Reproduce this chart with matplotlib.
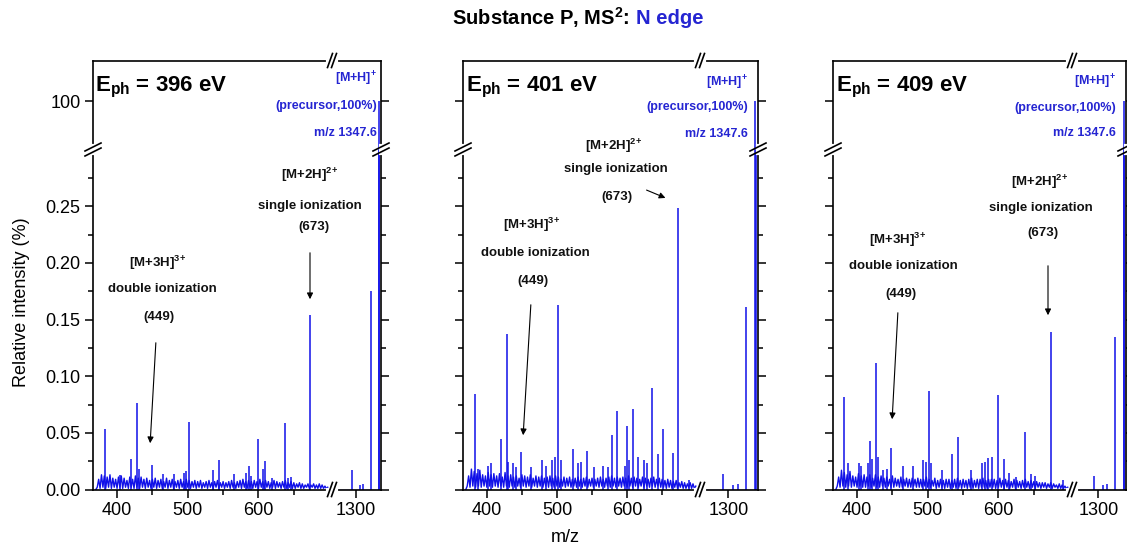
import numpy as np
import matplotlib.pyplot as plt
from matplotlib.lines import Line2D
from matplotlib.patches import FancyArrowPatch

plt.rcParams['font.family'] = ['Liberation Sans', 'DejaVu Sans']
plt.rcParams['mathtext.fontset'] = 'custom'
plt.rcParams['mathtext.rm'] = 'Liberation Sans:bold'
plt.rcParams['mathtext.bf'] = 'Liberation Sans:bold'
plt.rcParams['mathtext.default'] = 'rm'

# ---- data ----
energies = [396, 401, 409]

# discrete peaks (m/z, relative intensity in %)
peak_mz_396 = [383.5, 404, 420, 428, 431, 449.5, 465, 480, 494, 497, 501.4, 535, 544,
               565, 583, 586, 590, 599, 607, 609, 619, 637, 642, 646, 673.5,
               1291, 1308, 1315, 1330.5, 1347.6, 1348.6]
peak_int_396 = [0.053, 0.013, 0.027, 0.076, 0.018, 0.022, 0.014, 0.014, 0.015, 0.016, 0.060, 0.017, 0.026,
                0.014, 0.015, 0.021, 0.012, 0.045, 0.018, 0.025, 0.010, 0.059, 0.010, 0.011, 0.154,
                0.017, 0.004, 0.005, 0.175, 100, 78]

peak_mz_401 = [382.6, 388, 402, 405.6, 419.8, 428.2, 430.6, 437.6, 442, 449.4, 463.5, 479,
               484.7, 493, 496.5, 501.2, 506, 522.4, 530.4, 534, 543.5, 553, 565.6, 573,
               578.8, 585.9, 596.7, 600, 603, 608.5, 615.5, 623.5, 629, 636, 643.8, 651.8,
               666, 673.2, 689, 1291, 1308, 1316, 1331.5, 1347.6, 1348.6]
peak_int_401 = [0.084, 0.018, 0.021, 0.023, 0.045, 0.137, 0.024, 0.023, 0.020, 0.033, 0.020, 0.026,
                0.021, 0.026, 0.029, 0.163, 0.026, 0.036, 0.023, 0.024, 0.034, 0.020, 0.021, 0.020,
                0.048, 0.069, 0.021, 0.056, 0.026, 0.071, 0.029, 0.026, 0.023, 0.090, 0.031, 0.053,
                0.032, 0.248, 0.008, 0.014, 0.004, 0.005, 0.161, 100, 78]

peak_mz_409 = [382, 386.8, 402.4, 405.7, 415, 419, 421, 427.4, 429.3, 437, 442.6, 448.7,
               465, 479.4, 493, 497.9, 501.2, 505, 520.6, 534.8, 542.8, 561.7, 577.3, 580.6,
               585.8, 591.5, 600, 608, 615, 624.6, 637.4, 645.9, 651.5, 674, 690.8,
               1291, 1308, 1316, 1331, 1347.6, 1348.6]
peak_int_409 = [0.082, 0.023, 0.023, 0.021, 0.023, 0.043, 0.027, 0.112, 0.029, 0.017, 0.018, 0.037,
                0.021, 0.021, 0.026, 0.024, 0.087, 0.023, 0.017, 0.031, 0.046, 0.017, 0.023, 0.024,
                0.028, 0.029, 0.083, 0.027, 0.015, 0.011, 0.051, 0.014, 0.012, 0.139, 0.008,
                0.012, 0.004, 0.005, 0.135, 100, 78]

# low level background, sampled every 2 m/z from 370 (units of 0.001 %)
noise_396 = [0, 2, 9, 1, 13, 2, 12, 1, 11, 2,
             13, 1, 10, 2, 9, 1, 11, 2, 12, 1,
             10, 2, 8, 1, 11, 2, 9, 1, 12, 2,
             10, 1, 11, 2, 9, 1, 10, 2, 8, 1,
             9, 2, 10, 1, 8, 2, 9, 1, 7, 2,
             10, 1, 8, 2, 9, 1, 7, 2, 8, 1,
             9, 2, 7, 1, 9, 2, 8, 1, 7, 2,
             8, 1, 7, 2, 8, 1, 6, 2, 7, 1,
             8, 2, 6, 1, 7, 2, 8, 1, 6, 2,
             7, 1, 6, 2, 7, 1, 8, 2, 6, 1,
             7, 2, 8, 1, 9, 2, 7, 1, 8, 2,
             7, 1, 8, 2, 7, 1, 9, 2, 7, 1,
             8, 2, 7, 1, 6, 2, 8, 1, 7, 2,
             6, 1, 7, 2, 8, 1, 6, 2, 7, 1,
             6, 1, 5, 2, 6, 1, 5, 1, 4, 2,
             5, 1, 4, 2, 5, 1, 4, 1, 5, 1,
             4, 1, 3, 1, 2]
noise_401 = [0, 3, 12, 2, 18, 3, 16, 2, 14, 3,
             17, 2, 13, 3, 12, 2, 15, 3, 13, 2,
             14, 3, 12, 2, 14, 3, 11, 2, 15, 3,
             12, 2, 13, 3, 11, 2, 12, 3, 10, 2,
             13, 3, 12, 2, 11, 3, 13, 2, 10, 3,
             12, 2, 11, 3, 12, 2, 10, 3, 11, 2,
             12, 3, 10, 2, 12, 3, 11, 2, 9, 3,
             11, 2, 10, 3, 11, 2, 9, 3, 10, 2,
             11, 3, 9, 2, 10, 3, 11, 2, 9, 3,
             10, 2, 9, 3, 10, 2, 11, 3, 9, 2,
             10, 3, 11, 2, 12, 3, 10, 2, 11, 3,
             10, 2, 11, 3, 10, 2, 12, 3, 10, 2,
             11, 3, 10, 2, 9, 3, 11, 2, 10, 3,
             9, 2, 10, 3, 11, 2, 9, 3, 10, 2,
             9, 2, 8, 1, 9, 2, 8, 1, 7, 2,
             8, 1, 6, 2, 7, 1, 6, 1, 5, 2,
             6, 1, 5, 1, 3]
noise_409 = [0, 3, 11, 2, 17, 3, 15, 2, 13, 3,
             16, 2, 12, 3, 11, 2, 14, 3, 12, 2,
             13, 2, 11, 3, 13, 2, 10, 3, 13, 2,
             11, 2, 12, 3, 10, 2, 11, 3, 9, 2,
             12, 2, 10, 3, 9, 2, 11, 2, 9, 3,
             10, 2, 9, 2, 10, 3, 9, 2, 10, 2,
             9, 2, 9, 3, 11, 2, 9, 2, 8, 3,
             10, 1, 8, 2, 9, 2, 8, 1, 9, 2,
             9, 1, 8, 2, 9, 1, 10, 2, 8, 1,
             9, 2, 8, 1, 9, 2, 10, 1, 8, 2,
             9, 1, 9, 2, 10, 2, 8, 1, 9, 2,
             9, 2, 9, 1, 8, 2, 10, 2, 8, 1,
             9, 2, 8, 1, 7, 2, 9, 1, 8, 2,
             7, 1, 8, 2, 9, 2, 7, 1, 8, 2,
             7, 1, 7, 2, 6, 1, 6, 2, 6, 1,
             5, 2, 6, 1, 5, 2, 4, 1, 5, 1,
             4, 1, 3, 1, 2]

peak_mz = [peak_mz_396, peak_mz_401, peak_mz_409]
peak_int = [peak_int_396, peak_int_401, peak_int_409]
noise_all = [noise_396, noise_401, noise_409]

xticks_low = [400, 500, 600]
xminor_low = [450, 550, 650]
xticks_high = [1300]
yticks_low = [0.00, 0.05, 0.10, 0.15, 0.20, 0.25]
yminor_low = [0.025, 0.075, 0.125, 0.175, 0.225, 0.275]
yticks_high = [100]

# ---- layout (pixels of the 1127x558 image) ----
W, H = 1127, 558
BLUE = '#1010e8'
TBLUE = '#2525d2'
TOP, YBRK, BOT = 60.5, 149.5, 489.5
panels_px = [(93, 332, 381), (463, 700, 758), (833, 1072, 1126)]


def fx(x):
    return x / W


def fy(y):
    return 1 - y / H


fig = plt.figure(figsize=(W / 100, H / 100), dpi=100)


def add_ax(x0, x1, y0, y1):
    ax = fig.add_axes([fx(x0), fy(y1), (x1 - x0) / W, (y1 - y0) / H])
    ax.patch.set_alpha(0)
    for s in ax.spines.values():
        s.set_linewidth(1.2)
    ax.tick_params(which='major', direction='out', length=6, width=1.1, labelsize=13, pad=3)
    ax.tick_params(which='minor', direction='out', length=3.5, width=1.1)
    return ax


def fline(xs, ys, **kw):
    fig.add_artist(Line2D([fx(v) for v in xs], [fy(v) for v in ys],
                          transform=fig.transFigure, zorder=6, **kw))


def break_h(x, y):
    fline([x - 4, x + 4], [y, y], color='white', lw=3)
    for c in (x - 2, x + 2):
        fline([c - 2.5, c + 2.5], [y + 7, y - 7], color='black', lw=1.2)


def break_v(x, y):
    fline([x, x], [y - 3.5, y + 3.5], color='white', lw=3)
    for c in (y - 2.5, y + 2.5):
        fline([x - 8, x + 8], [c + 4, c - 4], color='black', lw=1.2)


for i, e in enumerate(energies):
    left, brk, right = panels_px[i]
    axL = add_ax(left, brk, YBRK, BOT)
    axR = add_ax(brk, right, YBRK, BOT)
    axUL = add_ax(left, brk, TOP, YBRK)
    axUR = add_ax(brk, right, TOP, YBRK)

    axL.spines[['top', 'right']].set_visible(False)
    axR.spines[['top', 'left']].set_visible(False)
    axUL.spines[['bottom', 'right']].set_visible(False)
    axUR.spines[['bottom', 'left']].set_visible(False)

    for ax in (axL, axUL):
        ax.set_xlim(366, 704)
    for ax in (axR, axUR):
        ax.set_xlim(1250, 1352)
    for ax in (axL, axR):
        ax.set_ylim(0, 0.30)
        ax.set_yticks(yticks_low)
        ax.set_yticks(yminor_low, minor=True)
    for ax in (axUL, axUR):
        ax.set_ylim(95, 104.27)
        ax.set_yticks(yticks_high)
        ax.set_xticks([])

    axL.set_xticks(xticks_low)
    axL.set_xticks(xminor_low, minor=True)
    axR.set_xticks(xticks_high)
    axR.yaxis.tick_right()
    axUR.yaxis.tick_right()
    axR.tick_params(axis='y', which='both', labelright=False)
    axUR.tick_params(axis='y', labelright=False)
    axL.set_yticklabels(['0.00', '0.05', '0.10', '0.15', '0.20', '0.25'])
    if i > 0:
        axL.tick_params(axis='y', labelleft=False)
        axUL.tick_params(axis='y', labelleft=False)

    mz = np.array(peak_mz[i])
    inten = np.array(peak_int[i])
    noise = np.array(noise_all[i]) * 1e-3
    nmz = 370 + 2 * np.arange(len(noise))
    axL.plot(nmz, noise, color=BLUE, lw=1.0)
    for ax in (axL, axR, axUR):
        ax.vlines(mz, 0, inten, color=BLUE, lw=1.1)
    axR.axhline(0, color=BLUE, lw=1.0)

    # axis break marks
    break_h(brk, BOT)
    break_h(brk, TOP)
    break_v(left, YBRK)
    break_v(right, YBRK)

# ---- texts ----
def ftext(x, y, s, **kw):
    fig.text(fx(x), fy(y), s, **kw)


def farrow(x0, y0, x1, y1):
    fig.add_artist(FancyArrowPatch((fx(x0), fy(y0)), (fx(x1), fy(y1)),
                                   transform=fig.transFigure, arrowstyle='-|>',
                                   mutation_scale=9, lw=0.8, color='black', zorder=7))


eph_x = [95, 466, 836]
for i, e in enumerate(energies):
    ftext(eph_x[i], 91, r'E$_{ph}$ = %d eV' % e, fontsize=16, fontweight='bold', va='baseline')

blue_right = [377, 748, 1116]
blue_y = [(79, 106, 133), (83, 107, 134), (82, 108, 133)]
for i in range(3):
    yb = blue_y[i]
    ftext(blue_right[i], yb[0], r'[M+H]$^{+}$', ha='right', va='center', fontsize=9, fontweight='bold', color=TBLUE)
    ftext(blue_right[i], yb[1], '(precursor,100%)', ha='right', va='center', fontsize=9, fontweight='bold', color=TBLUE)
    ftext(blue_right[i], yb[2], 'm/z 1347.6', ha='right', va='center', fontsize=9, fontweight='bold', color=TBLUE)

kw = dict(ha='center', va='center', fontsize=9.5, fontweight='bold', color='#111111')
# ionization labels
single_pos = [((310, 175), (310, 206), (314, 227)),
              ((614, 146), (616, 169), (617, 197)),
              ((1040, 182), (1041, 208), (1043, 233))]
double_pos = [((158, 263), (162, 289), (159, 317)),
              ((532, 225), (535, 253), (533, 281)),
              ((898, 240), (903, 266), (901, 294))]
for i in range(3):
    a, b, c = single_pos[i]
    ftext(*a, r'[M+2H]$^{2}$$^{+}$', **kw)
    ftext(*b, 'single ionization', **kw)
    ftext(*c, '(673)', **kw)
    a, b, c = double_pos[i]
    ftext(*a, r'[M+3H]$^{3}$$^{+}$', **kw)
    ftext(*b, 'double ionization', **kw)
    ftext(*c, '(449)', **kw)

farrow(310, 250, 310, 302)
farrow(156, 340, 150, 446)
farrow(644, 189, 668, 199)
farrow(531, 302, 523, 438)
farrow(1048, 263, 1048, 318)
farrow(898, 310, 892, 422)

ftext(22, 302, 'Relative intensity (%)', rotation=90, ha='center', va='center', fontsize=13)
ftext(565, 538, 'm/z', ha='center', va='center', fontsize=13)
ftext(630, 18, r'Substance P, MS$^{2}$:', ha='right', va='center', fontsize=14.5, fontweight='bold')
ftext(636, 18, 'N edge', ha='left', va='center', fontsize=14.5, fontweight='bold', color=TBLUE)

fig.savefig('out.png', dpi=100)
